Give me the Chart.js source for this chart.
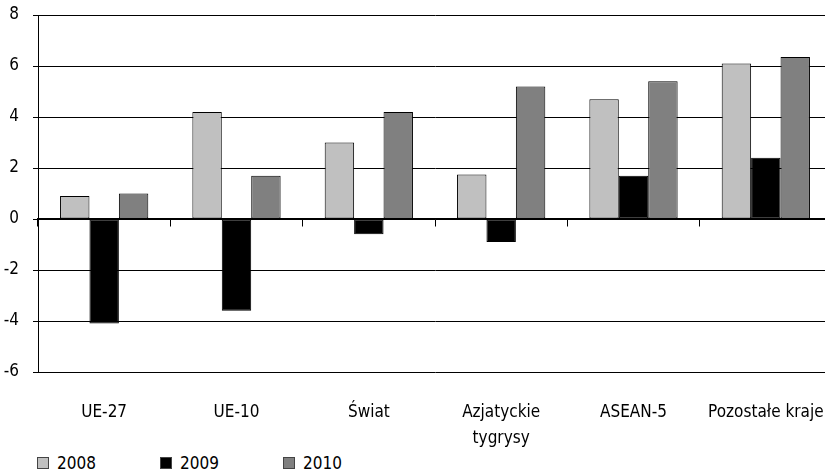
<!DOCTYPE html>
<html>
<head>
<meta charset="utf-8">
<script src="https://cdn.jsdelivr.net/npm/chart.js@4/dist/chart.umd.min.js"></script>
<style>
  html, body { margin: 0; padding: 0; background: #fff; overflow: hidden; }
  #wrap { position: relative; width: 833px; height: 448px; }
  #legend { display: flex; margin: 2px 0 0 37px; height: 25px; align-items: center;
            font-family: 'DejaVu Sans Condensed', sans-serif; font-size: 17px; color: #000; }
  #legend .item { width: 123px; display: flex; align-items: center; }
  #legend .box { width: 12px; height: 12px; margin-right: 8px; box-sizing: border-box; border: 1px solid #444; }
</style>
</head>
<body>
<div id="wrap"><canvas id="chart"></canvas></div>
<div id="legend"></div>
<script>
var categories = ['UE-27', 'UE-10', 'Świat', ['Azjatyckie', 'tygrysy'], 'ASEAN-5', 'Pozostałe kraje'];
var years = ['2008', '2009', '2010'];
var values2008 = [0.9, 4.2, 3.0, 1.75, 4.7, 6.1];
var values2009 = [-4.1, -3.6, -0.6, -0.9, 1.7, 2.4];
var values2010 = [1.0, 1.7, 4.2, 5.2, 5.4, 6.35];
var yTicks = [-6, -4, -2, 0, 2, 4, 6, 8];
var colors = ['#c0c0c0', '#000000', '#808080'];

var fontFamily = "'DejaVu Sans Condensed', sans-serif";

var series = [values2008, values2009, values2010];
var datasets = series.map(function(v, i) {
    return {
        label: years[i],
        data: v,
        backgroundColor: colors[i],
        borderColor: '#000',
        borderWidth: 1,
        borderSkipped: false,
        categoryPercentage: 0.667,
        barPercentage: 1.0
    };
});

var ctx = document.getElementById('chart').getContext('2d');
var chart = new Chart(ctx, {
    type: 'bar',
    data: { labels: categories, datasets: datasets },
    options: {
        responsive: true,
        maintainAspectRatio: false,
        animation: false,
        layout: { padding: { left: 4, top: 15, right: 1, bottom: 0 } },
        plugins: {
            legend: { display: false },
            tooltip: { enabled: false }
        },
        scales: {
            x: {
                type: 'category',
                position: 'bottom',
                grid: { display: false },
                border: { display: false },
                ticks: { color: '#000', font: { family: fontFamily, size: 17, lineHeight: 1.5 }, padding: 20, maxRotation: 0, autoSkip: false },
                afterFit: function(axis) {
                    axis.height = 76;
                    axis.paddingLeft = 0;
                    axis.paddingRight = 0;
                }
            },
            x0: {
                type: 'category',
                position: { y: 0 },
                offset: true,
                grid: { offset: true, drawOnChartArea: false, tickLength: 7, color: '#000', lineWidth: 1 },
                border: { color: '#000', width: 1.5 },
                ticks: { display: false },
                afterFit: function(axis) {
                    axis.height = 0;
                    axis.paddingLeft = 0;
                    axis.paddingRight = 0;
                }
            },
            y: {
                min: -6,
                max: 8,
                afterBuildTicks: function(axis) {
                    axis.ticks = yTicks.map(function(v) { return { value: v }; });
                },
                afterFit: function(axis) {
                    axis.width = 34;
                    axis.paddingTop = 0;
                    axis.paddingBottom = 0;
                },
                grid: { color: '#000', lineWidth: 1, tickLength: 5 },
                border: { color: '#000', width: 1 },
                ticks: { color: '#000', font: { family: fontFamily, size: 17 }, padding: 14 }
            }
        }
    }
});

// legend built from the datasets
var legend = document.getElementById('legend');
chart.data.datasets.forEach(function(ds) {
    var item = document.createElement('div');
    item.className = 'item';
    var box = document.createElement('span');
    box.className = 'box';
    box.style.background = ds.backgroundColor;
    var txt = document.createElement('span');
    txt.textContent = ds.label;
    item.appendChild(box);
    item.appendChild(txt);
    legend.appendChild(item);
});
</script>
</body>
</html>
